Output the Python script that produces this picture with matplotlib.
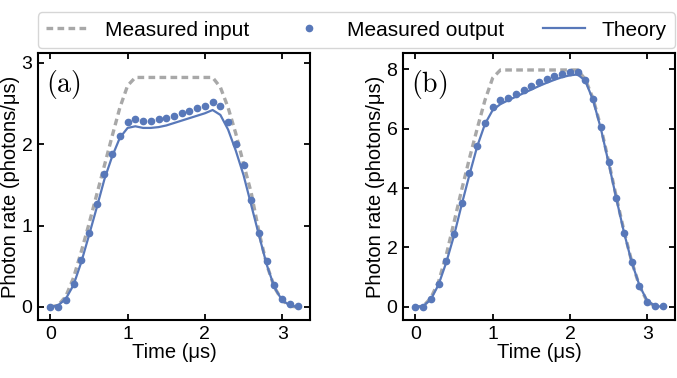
import numpy as np
import matplotlib
matplotlib.use("Agg")
import matplotlib.pyplot as plt

plt.rcParams["font.family"] = ["Liberation Sans", "DejaVu Sans"]
plt.rcParams["mathtext.fontset"] = "cm"

# time grid (us)
time = [round(0.1 * i, 1) for i in range(33)]

# panel (a)
input_a = [0.0, 0.02, 0.13, 0.36, 0.68, 1.02, 1.38, 1.74, 2.1, 2.45, 2.72, 2.82,
           2.82, 2.82, 2.82, 2.82, 2.82, 2.82, 2.82, 2.82, 2.82, 2.82, 2.7, 2.45,
           2.13, 1.76, 1.4, 0.92, 0.52, 0.24, 0.08, 0.01, 0.0]
output_a = [0.0, 0.0, 0.09, 0.28, 0.58, 0.91, 1.27, 1.64, 1.88, 2.1, 2.27, 2.31,
            2.29, 2.29, 2.31, 2.32, 2.35, 2.38, 2.41, 2.44, 2.47, 2.52, 2.47, 2.27,
            2.0, 1.74, 1.32, 0.91, 0.57, 0.27, 0.1, 0.04, 0.01]
theory_a = [0.0, 0.02, 0.1, 0.27, 0.55, 0.88, 1.22, 1.57, 1.85, 2.08, 2.2, 2.22,
            2.2, 2.2, 2.21, 2.23, 2.26, 2.29, 2.32, 2.35, 2.38, 2.42, 2.36, 2.18,
            1.92, 1.62, 1.25, 0.88, 0.52, 0.24, 0.08, 0.02, 0.0]

# panel (b)
input_b = [0.0, 0.02, 0.3, 0.85, 1.75, 2.85, 3.95, 5.0, 6.0, 6.95, 7.7, 7.97,
           7.97, 7.97, 7.97, 7.97, 7.97, 7.97, 7.97, 7.97, 7.97, 7.97, 7.65, 7.0,
           6.05, 4.9, 3.7, 2.55, 1.52, 0.7, 0.18, 0.03, 0.0]
output_b = [0.0, 0.0, 0.26, 0.77, 1.56, 2.45, 3.49, 4.49, 5.42, 6.2, 6.71, 6.96,
            7.04, 7.15, 7.29, 7.43, 7.55, 7.66, 7.76, 7.85, 7.89, 7.91, 7.63, 6.98,
            6.04, 4.86, 3.65, 2.5, 1.5, 0.71, 0.18, 0.03, 0.02]
theory_b = [0.0, 0.03, 0.25, 0.75, 1.5, 2.4, 3.45, 4.45, 5.4, 6.15, 6.62, 6.82,
            6.95, 7.07, 7.19, 7.31, 7.43, 7.54, 7.64, 7.73, 7.79, 7.82, 7.6, 6.95,
            6.0, 4.85, 3.65, 2.5, 1.5, 0.72, 0.2, 0.04, 0.0]

BLUE = "#5878b9"
GREY = "#a8a8a8"

fig = plt.figure(figsize=(6.77, 3.78), dpi=100)
ax_a = fig.add_axes([0.0561, 0.1534, 0.4018, 0.7063])
ax_b = fig.add_axes([0.5953, 0.1534, 0.4018, 0.7063])

panels = [
    (ax_a, input_a, output_a, theory_a, "(a)", (-0.16, 3.12), [0, 1, 2, 3]),
    (ax_b, input_b, output_b, theory_b, "(b)", (-0.44, 8.54), [0, 2, 4, 6, 8]),
]

for ax, inp, out, th, tag, ylim, yticks in panels:
    ax.plot(time, inp, ls="--", color=GREY, lw=2.4, dashes=(2.0, 1.3),
            label="Measured input", zorder=1)
    ax.plot(time, out, ls="", marker="o", ms=4.5, color=BLUE,
            label="Measured output", zorder=3)
    ax.plot(time, th, ls="-", color=BLUE, lw=1.6, label="Theory", zorder=2)
    ax.set_xlim(-0.16, 3.36)
    ax.set_ylim(*ylim)
    ax.set_xticks([0, 1, 2, 3])
    ax.set_yticks(yticks)
    ax.tick_params(direction="in", top=True, right=True, length=4.5, width=1.3,
                   labelsize=14, pad=4)
    for s in ax.spines.values():
        s.set_linewidth(1.5)
    ax.set_xlabel("Time (μs)", fontsize=14.5, labelpad=0)
    ax.set_ylabel("Photon rate (photons/μs)", fontsize=14.5, labelpad=1)
    ax.text(0.03, 0.945, r"$\mathrm{" + tag + "}$", transform=ax.transAxes,
            fontsize=20, va="top", ha="left")

handles, labels = ax_a.get_legend_handles_labels()
fig.legend(handles, labels, loc="lower left", ncol=3, mode="expand",
           bbox_to_anchor=(0.0561, 0.873, 0.9405, 0.093), fontsize=15,
           frameon=True, edgecolor="#cccccc", borderaxespad=0.0,
           handlelength=2.0, borderpad=0.4)

fig.savefig("out.png", dpi=100)
